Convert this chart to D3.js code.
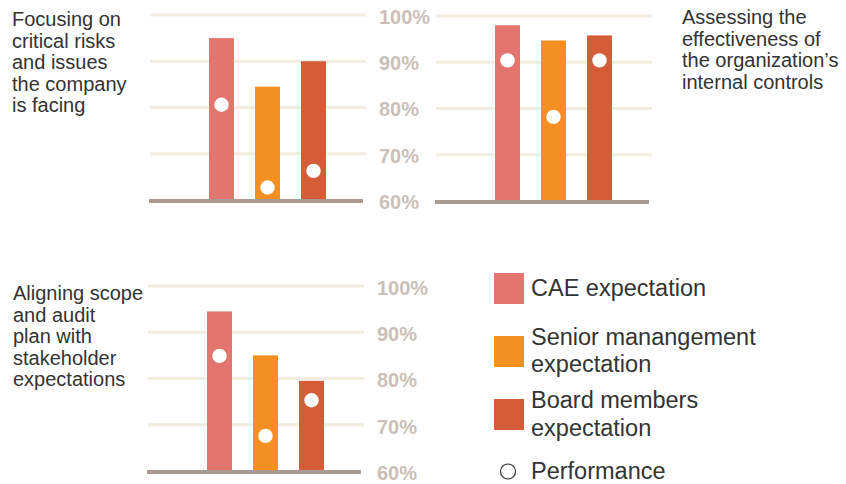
<!DOCTYPE html>
<html>
<head>
<meta charset="utf-8">
<script src="https://cdn.jsdelivr.net/npm/d3@7"></script>
<style>
  html, body { margin: 0; padding: 0; background: #fff; }
  svg { display: block; font-family: "Liberation Sans", Arial, Helvetica, sans-serif; }
</style>
</head>
<body>
<svg id="chart" width="846" height="484"></svg>
<script>
// ---- Data ----
const categories = ["CAE expectation", "Senior manangement expectation", "Board members expectation"];
const panelTitles = [
  ["Focusing on", "critical risks", "and issues", "the company", "is facing"],
  ["Assessing the", "effectiveness of", "the organization\u2019s", "internal controls"],
  ["Aligning scope", "and audit", "plan with", "stakeholder", "expectations"]
];
const expectationValues = [
  [95.0, 84.5, 90.0],
  [98.0, 94.7, 95.8],
  [94.5, 85.0, 79.5]
];
const performanceValues = [
  [80.6, 62.7, 66.3],
  [90.4, 78.2, 90.4],
  [84.9, 67.6, 75.3]
];
const tickValues = [60, 70, 80, 90, 100];
const tickLabels = ["60%", "70%", "80%", "90%", "100%"];
const legendLabels = [["CAE expectation"], ["Senior manangement", "expectation"], ["Board members", "expectation"]];
const performanceLabel = "Performance";

// ---- Styles / layout ----
const colors = ["#e2766e", "#f39021", "#d45c37"];
const gridColor = "#f3ece1";
const baseColor = "#a99b93";
const tickColor = "#cbbfb9";
const textColor = "#333333";

const panels = [
  { x: 150, top: 15, bottom: 200, w: 216, title: { x: 12, y: 26 }, axisX: 379, showAxis: true },
  { x: 436, top: 16, bottom: 201, w: 216, title: { x: 682, y: 24 }, axisX: null, showAxis: false },
  { x: 148, top: 286, bottom: 471, w: 216, title: { x: 13, y: 300 }, axisX: 377, showAxis: true }
];

const svg = d3.select("#chart");

panels.forEach((p, i) => {
  const g = svg.append("g").attr("transform", `translate(${p.x},0)`);
  const y = d3.scaleLinear().domain([60, 100]).range([p.bottom, p.top]);
  const x = d3.scaleBand().domain(categories).range([59, 176]).paddingInner(0.4565).paddingOuter(0);

  // gridlines
  g.selectAll("line.grid").data(tickValues.slice(1)).join("line")
    .attr("class", "grid")
    .attr("x1", 0).attr("x2", p.w)
    .attr("y1", d => y(d)).attr("y2", d => y(d))
    .attr("stroke", gridColor).attr("stroke-width", 3);

  // bars
  g.selectAll("rect.bar").data(expectationValues[i]).join("rect")
    .attr("class", "bar")
    .attr("x", (d, j) => x(categories[j]))
    .attr("width", x.bandwidth())
    .attr("y", d => y(d))
    .attr("height", d => y(60) - y(d))
    .attr("fill", (d, j) => colors[j]);

  // baseline
  g.append("line")
    .attr("x1", -1).attr("x2", p.w - 3)
    .attr("y1", y(60) + 1).attr("y2", y(60) + 1)
    .attr("stroke", baseColor).attr("stroke-width", 4);

  // performance dots
  g.selectAll("circle.perf").data(performanceValues[i]).join("circle")
    .attr("class", "perf")
    .attr("cx", (d, j) => x(categories[j]) + x.bandwidth() / 2)
    .attr("cy", d => y(d))
    .attr("r", 7.2)
    .attr("fill", "#ffffff");

  // axis labels
  if (p.showAxis) {
    const axis = d3.axisRight(y).tickValues(tickValues)
      .tickFormat((d, k) => tickLabels[k]).tickSize(0).tickPadding(0);
    const ag = svg.append("g").attr("transform", `translate(${p.axisX},2)`).call(axis);
    ag.select(".domain").remove();
    ag.selectAll("text")
      .attr("fill", tickColor)
      .style("font-size", "20px")
      .style("font-weight", "bold")
      .style("font-family", "'Liberation Sans', Arial, sans-serif");
  }

  // title
  const t = svg.append("text")
    .attr("x", p.title.x).attr("y", p.title.y)
    .attr("fill", textColor)
    .style("font-size", "20px");
  panelTitles[i].forEach((line, k) => {
    t.append("tspan").attr("x", p.title.x).attr("y", p.title.y + k * 21.6).text(line);
  });
});

// ---- Legend ----
const legendSquares = [273, 336, 399];
const legendBaselines = [[296], [345, 372], [408, 436]];
const lg = svg.append("g");
legendLabels.forEach((lines, i) => {
  lg.append("rect")
    .attr("x", 494).attr("y", legendSquares[i])
    .attr("width", 30).attr("height", 31)
    .attr("fill", colors[i]);
  const t = lg.append("text").attr("fill", textColor).style("font-size", "23.5px");
  lines.forEach((line, k) => {
    t.append("tspan").attr("x", 531).attr("y", legendBaselines[i][k]).text(line);
  });
});
lg.append("circle")
  .attr("cx", 508).attr("cy", 471.5).attr("r", 7.5)
  .attr("fill", "#fff").attr("stroke", "#333").attr("stroke-width", 1.2);
lg.append("text")
  .attr("x", 531).attr("y", 479)
  .attr("fill", textColor).style("font-size", "23.5px")
  .text(performanceLabel);
</script>
</body>
</html>
